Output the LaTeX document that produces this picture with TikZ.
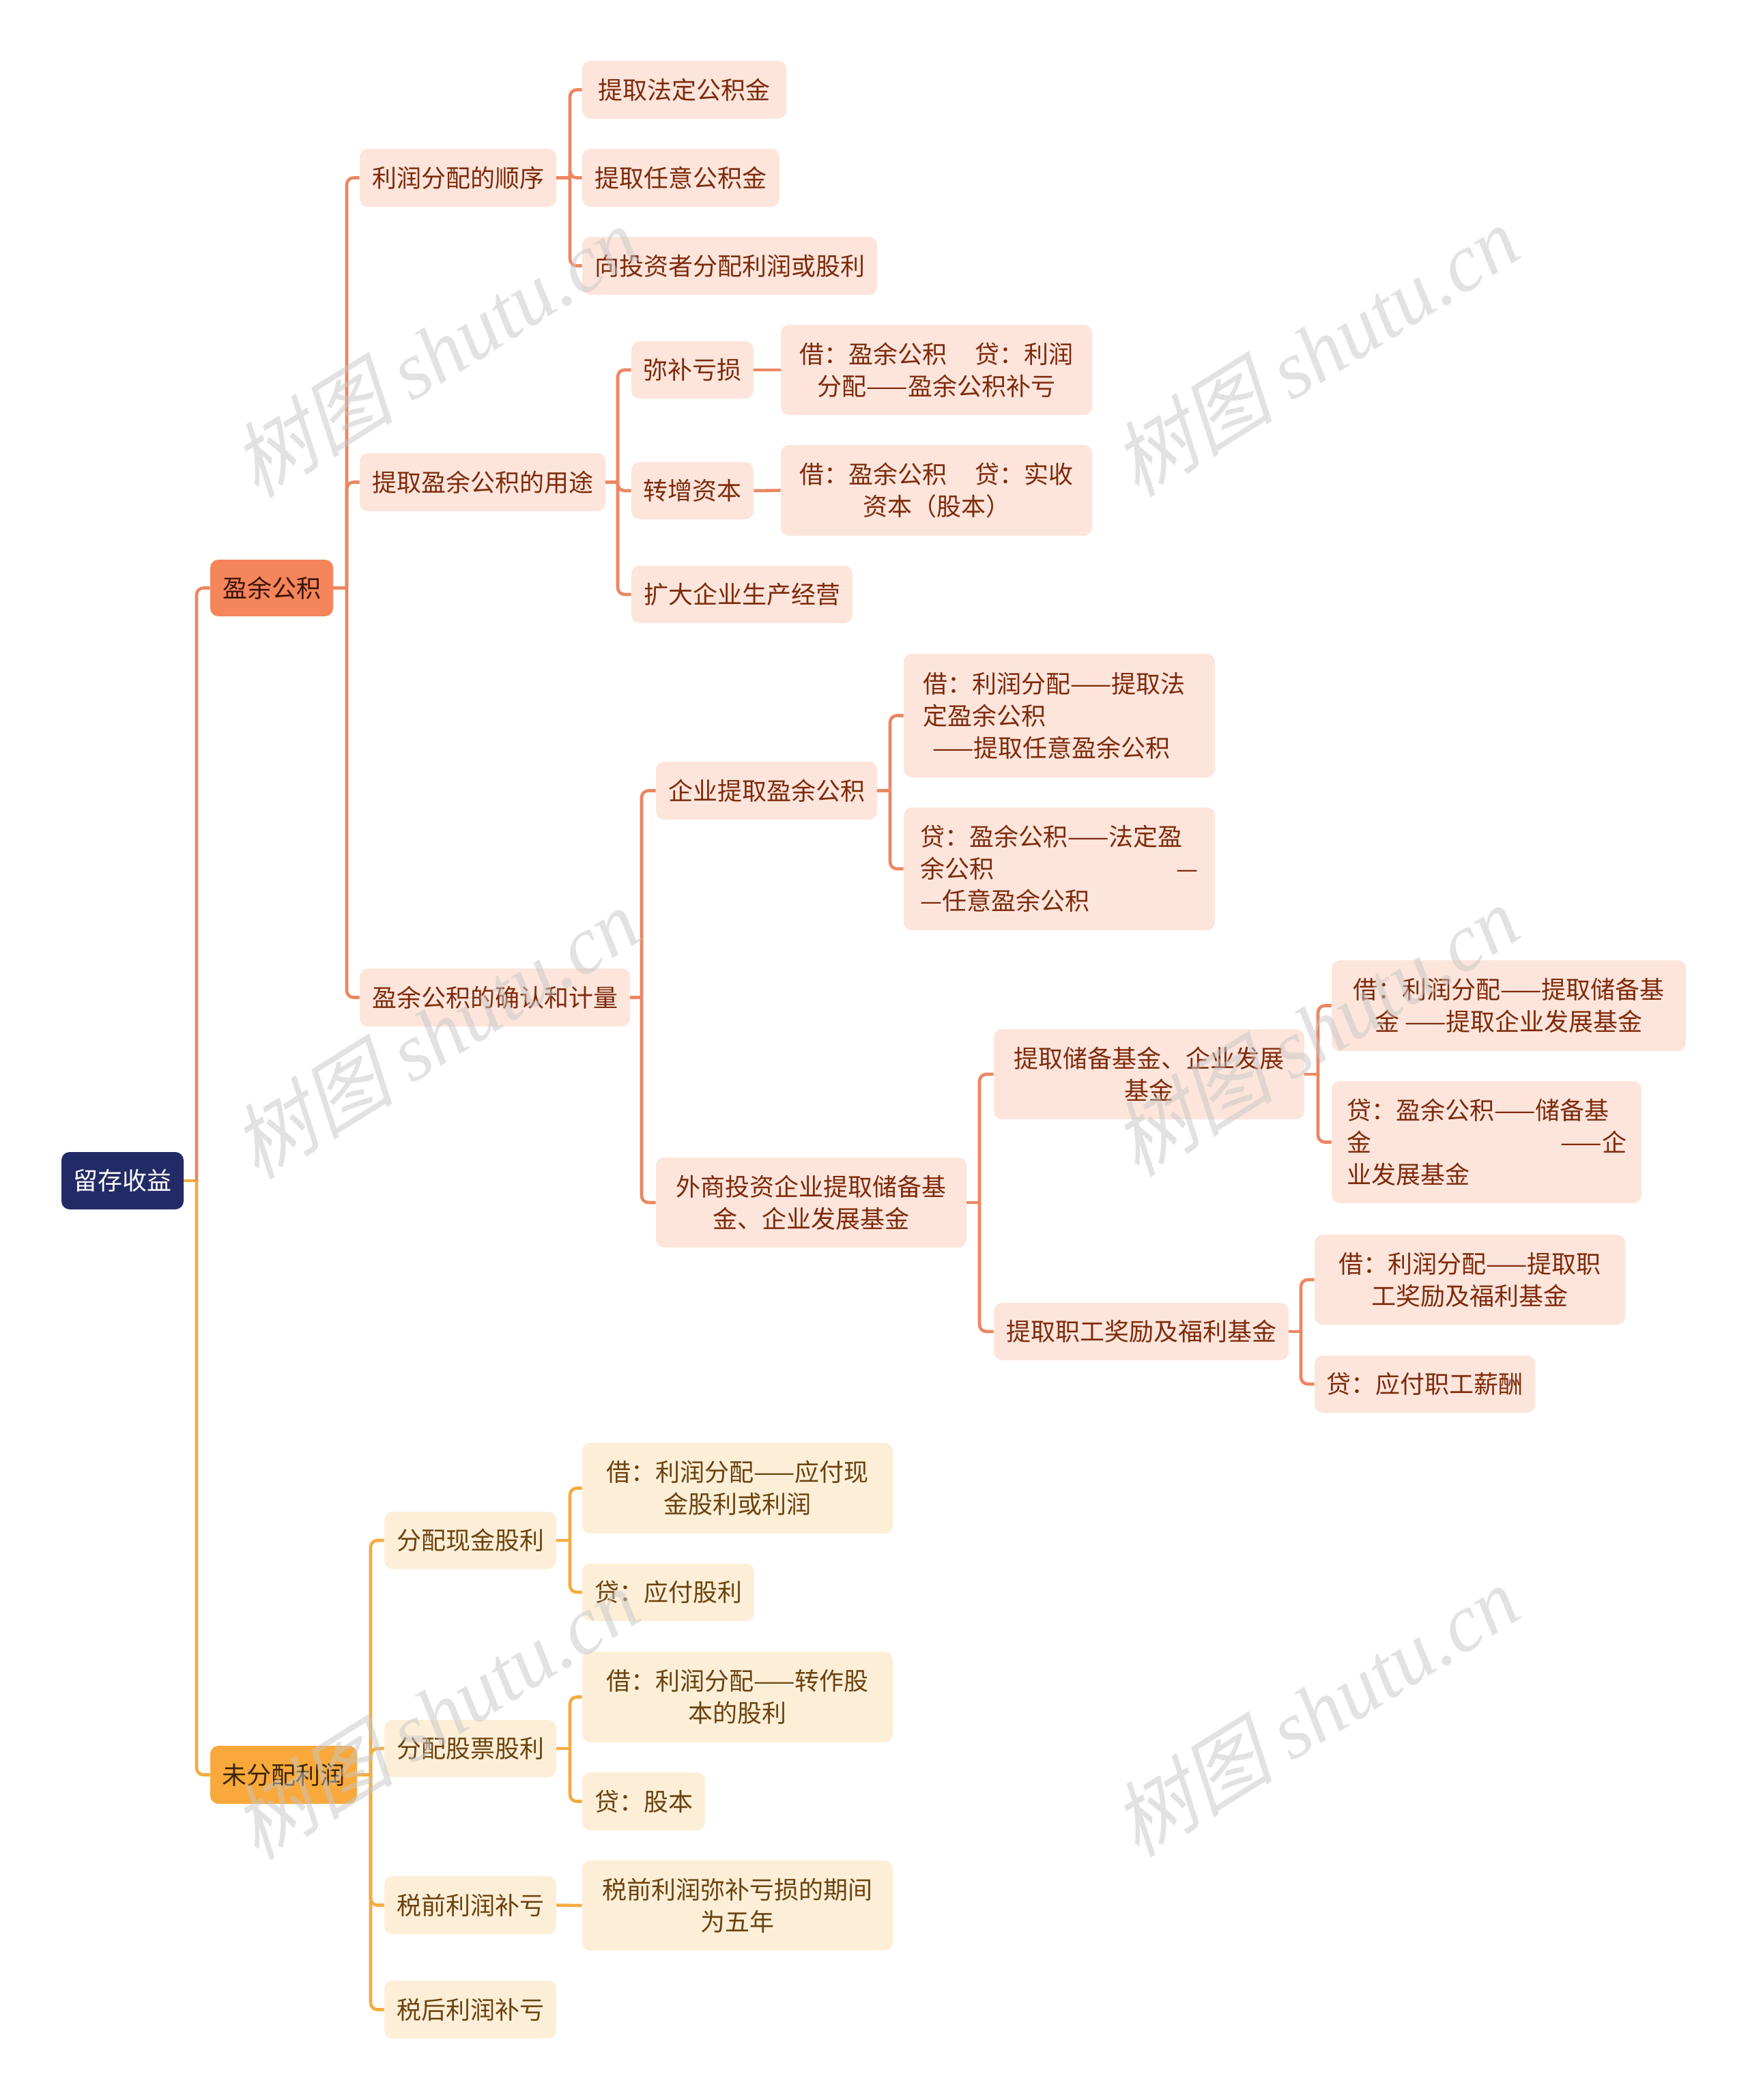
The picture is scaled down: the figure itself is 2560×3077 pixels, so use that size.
\documentclass[tikz,border=0pt]{standalone}
\usepackage{fontspec}
\setmainfont{Noto Sans CJK SC}
\newfontfamily\wmcjk[FakeSlant=0.25]{Noto Sans CJK SC}
\newfontfamily\wmlat{Liberation Serif}
\usetikzlibrary{calc}
\definecolor{rootc}{HTML}{232B66}
\definecolor{orc}{HTML}{F5855A}
\definecolor{ortx}{HTML}{3A1206}
\definecolor{yec}{HTML}{F9A93B}
\definecolor{yetx}{HTML}{3A2608}
\definecolor{pk}{HTML}{FDE5DB}
\definecolor{pktx}{HTML}{7E2A0C}
\definecolor{cr}{HTML}{FDEFD7}
\definecolor{crtx}{HTML}{6B4210}
\definecolor{lnor}{HTML}{EC8661}
\definecolor{lnye}{HTML}{F5AB3F}
\tikzset{
 base/.style={rounded corners=6pt, inner sep=0pt, font=\fontsize{18pt}{23.5pt}\selectfont, align=center},
 rootbox/.style={base, fill=rootc, text=white},
 lone/.style={base, fill=orc, text=ortx},
 ltwo/.style={base, fill=yec, text=yetx},
 pkbox/.style={base, fill=pk, text=pktx},
 crbox/.style={base, fill=cr, text=crtx},
 lnO/.style={draw=lnor, line width=2.3pt, rounded corners=5pt},
 lnY/.style={draw=lnye, line width=2.3pt, rounded corners=5pt},
 wm/.style={rotate=32, text=gray!45, opacity=0.5, font=\fontsize{60pt}{60pt}\selectfont},
}
\newcommand\mknode[7]{%
  \pgfmathsetmacro\mkcx{(#3+#5)/2}\pgfmathsetmacro\mkcy{(#4+#6)/2}%
  \pgfmathsetmacro\mkw{(#5-#3)*0.5}\pgfmathsetmacro\mkh{(#6-#4)*0.5}%
  \node[#1, minimum width=\mkw pt, minimum height=\mkh pt] (#2) at (\mkcx,\mkcy) {#7};}
\newcommand\stub[3]{\draw[#1] (#2.east) -- (#2.east -| #3);}
\newcommand\conn[4]{\draw[#1] (#2.east -| #3) |- (#4.west);}
\begin{document}
\begin{tikzpicture}[x=0.5pt,y=-0.5pt]
\useasboundingbox (0,0) rectangle (2560,3077);
\fill[white] (0,0) rectangle (2560,3077);
% nodes
\mknode{rootbox}{root}{90}{1688}{269}{1772}{留存收益}
\mknode{lone}{yy}{308}{820}{488}{903}{盈余公积}
\mknode{ltwo}{wf}{308}{2558}{523}{2643}{未分配利润}
\mknode{pkbox}{a1}{527}{218}{815}{303}{利润分配的顺序}
\mknode{pkbox}{a2}{527}{664}{887}{749}{提取盈余公积的用途}
\mknode{pkbox}{a3}{527}{1419}{923}{1504}{盈余公积的确认和计量}
\mknode{pkbox}{b1}{853}{89}{1152}{174}{提取法定公积金}
\mknode{pkbox}{b2}{853}{218}{1142}{303}{提取任意公积金}
\mknode{pkbox}{b3}{853}{347}{1285}{432}{向投资者分配利润或股利}
\mknode{pkbox}{c1}{925}{500}{1104}{584}{弥补亏损}
\mknode{pkbox}{c2}{925}{677}{1104}{761}{转增资本}
\mknode{pkbox}{c3}{925}{829}{1249}{913}{扩大企业生产经营}
\mknode{pkbox}{d1}{1144}{476}{1600}{608}{借：盈余公积\hspace{21pt}贷：利润\\分配——盈余公积补亏}
\mknode{pkbox}{d2}{1144}{652}{1600}{785}{借：盈余公积\hspace{21pt}贷：实收\\资本（股本）}
\mknode{pkbox}{e1}{961}{1116}{1285}{1201}{企业提取盈余公积}
\mknode{pkbox}{e2}{961}{1696}{1416}{1828}{外商投资企业提取储备基\\金、企业发展基金}
\mknode{pkbox, align=left, text width=200pt}{f1}{1324}{958}{1780}{1139}{借：利润分配——提取法\\定盈余公积\\\hspace*{7pt}——提取任意盈余公积}
\mknode{pkbox, align=left, text width=204pt}{f2}{1324}{1183}{1780}{1363}{贷：盈余公积——法定盈\\余公积\hspace{0pt plus 1filll}—\\—任意盈余公积}
\mknode{pkbox}{g1}{1456}{1508}{1911}{1640}{提取储备基金、企业发展\\基金}
\mknode{pkbox}{g2}{1456}{1909}{1888}{1993}{提取职工奖励及福利基金}
\mknode{pkbox}{h1}{1951}{1407}{2470}{1540}{借：利润分配——提取储备基\\金 ——提取企业发展基金}
\mknode{pkbox, align=left, text width=205pt}{h2}{1951}{1584}{2405}{1763}{贷：盈余公积——储备基\\金\hspace{0pt plus 1filll}——企\\业发展基金}
\mknode{pkbox}{i1}{1926}{1809}{2381}{1941}{借：利润分配——提取职\\工奖励及福利基金}
\mknode{pkbox}{i2}{1926}{1986}{2249}{2070}{贷：应付职工薪酬}
\mknode{crbox}{j1}{563}{2215}{815}{2299}{分配现金股利}
\mknode{crbox}{j2}{563}{2520}{815}{2604}{分配股票股利}
\mknode{crbox}{j3}{563}{2749}{815}{2834}{税前利润补亏}
\mknode{crbox}{j4}{563}{2902}{815}{2987}{税后利润补亏}
\mknode{crbox}{k1}{853}{2114}{1308}{2247}{借：利润分配——应付现\\金股利或利润}
\mknode{crbox}{k2}{853}{2291}{1105}{2375}{贷：应付股利}
\mknode{crbox}{k3}{853}{2420}{1308}{2553}{借：利润分配——转作股\\本的股利}
\mknode{crbox}{k4}{853}{2597}{1033}{2682}{贷：股本}
\mknode{crbox}{k5}{853}{2726}{1308}{2858}{税前利润弥补亏损的期间\\为五年}
% vertical line positions
\coordinate (v0) at (288,0);
\coordinate (vY) at (508,0);
\coordinate (vW) at (543,0);
\coordinate (vA) at (835,0);
\coordinate (vB) at (905,0);
\coordinate (vC) at (940,0);
\coordinate (vE1) at (1304,0);
\coordinate (vE2) at (1435,0);
\coordinate (vG1) at (1931,0);
\coordinate (vG2) at (1906,0);
% connectors
\stub{lnY}{root}{v0}
\conn{lnO}{root}{v0}{yy}
\conn{lnY}{root}{v0}{wf}
\stub{lnO}{yy}{vY}
\conn{lnO}{yy}{vY}{a1}
\conn{lnO}{yy}{vY}{a2}
\conn{lnO}{yy}{vY}{a3}
\stub{lnO}{a1}{vA}
\conn{lnO}{a1}{vA}{b1}
\conn{lnO}{a1}{vA}{b2}
\conn{lnO}{a1}{vA}{b3}
\stub{lnO}{a2}{vB}
\conn{lnO}{a2}{vB}{c1}
\conn{lnO}{a2}{vB}{c2}
\conn{lnO}{a2}{vB}{c3}
\draw[lnO] (c1.east) -- (d1.west);
\draw[lnO] (c2.east) -- (d2.west);
\stub{lnO}{a3}{vC}
\conn{lnO}{a3}{vC}{e1}
\conn{lnO}{a3}{vC}{e2}
\stub{lnO}{e1}{vE1}
\conn{lnO}{e1}{vE1}{f1}
\conn{lnO}{e1}{vE1}{f2}
\stub{lnO}{e2}{vE2}
\conn{lnO}{e2}{vE2}{g1}
\conn{lnO}{e2}{vE2}{g2}
\stub{lnO}{g1}{vG1}
\conn{lnO}{g1}{vG1}{h1}
\conn{lnO}{g1}{vG1}{h2}
\stub{lnO}{g2}{vG2}
\conn{lnO}{g2}{vG2}{i1}
\conn{lnO}{g2}{vG2}{i2}
\stub{lnY}{wf}{vW}
\conn{lnY}{wf}{vW}{j1}
\conn{lnY}{wf}{vW}{j2}
\conn{lnY}{wf}{vW}{j3}
\conn{lnY}{wf}{vW}{j4}
\stub{lnY}{j1}{vA}
\conn{lnY}{j1}{vA}{k1}
\conn{lnY}{j1}{vA}{k2}
\stub{lnY}{j2}{vA}
\conn{lnY}{j2}{vA}{k3}
\conn{lnY}{j2}{vA}{k4}
\draw[lnY] (j3.east) -- (k5.west);
% watermarks
\node[wm] (w1) at (637,515) {{\wmcjk 树图} {\wmlat\itshape shutu.cn}};
\node[wm] (w2) at (1926,514) {{\wmcjk 树图} {\wmlat\itshape shutu.cn}};
\node[wm] (w3) at (637,1514) {{\wmcjk 树图} {\wmlat\itshape shutu.cn}};
\node[wm] (w4) at (1926,1510) {{\wmcjk 树图} {\wmlat\itshape shutu.cn}};
\node[wm] (w5) at (637,2511) {{\wmcjk 树图} {\wmlat\itshape shutu.cn}};
\node[wm] (w6) at (1926,2507) {{\wmcjk 树图} {\wmlat\itshape shutu.cn}};
\end{tikzpicture}
\end{document}
